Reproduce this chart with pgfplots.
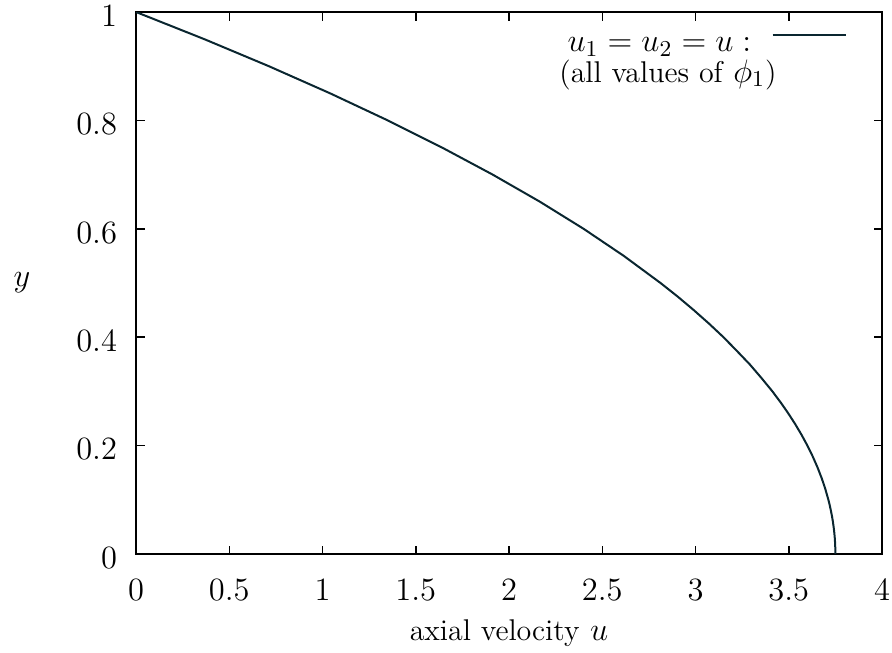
\documentclass[border=0pt]{standalone}
\usepackage{fix-cm}
\usepackage{fontspec}
\usepackage{pgfplots}
\pgfplotsset{compat=1.18}
\definecolor{curve}{HTML}{0A2630}
\pgfplotstableread{
u y
3.75 0
3.749625 0.01
3.7485 0.02
3.746625 0.03
3.744 0.04
3.740625 0.05
3.7365 0.06
3.731625 0.07
3.726 0.08
3.719625 0.09
3.7125 0.1
3.696 0.12
3.6765 0.14
3.654 0.16
3.6285 0.18
3.6 0.2
3.5685 0.22
3.534 0.24
3.4965 0.26
3.456 0.28
3.4125 0.3
3.353 0.325
3.290625 0.35
3.2211 0.375
3.15 0.4
3.0727 0.425
2.990625 0.45
2.9043 0.475
2.8125 0.5
2.615625 0.55
2.4 0.6
2.165625 0.65
1.9125 0.7
1.640625 0.75
1.35 0.8
1.040625 0.85
0.7125 0.9
0.365625 0.95
0 1
}\profile
\newcommand\txt[1]{{\fontsize{12}{14.4}\selectfont #1}}
\begin{document}
\fontsize{13}{15.6}\selectfont
\begin{tikzpicture}
\begin{axis}[
  width=298.4pt, height=216.8pt, scale only axis,
  xmin=0, xmax=4, ymin=0, ymax=1,
  xtick={0,0.5,1,1.5,2,2.5,3,3.5,4},
  ytick={0,0.2,0.4,0.6,0.8,1},
  tick align=inside, major tick length=3.4pt,
  axis line style={line width=0.7pt},
  every tick/.style={black, line width=0.6pt},
  xlabel={\txt{axial velocity} $u$}, ylabel={$y$},
  xlabel style={at={(rel axis cs:0.5,0)}, anchor=base, yshift=-34.4pt},
  ylabel style={rotate=-90, at={(rel axis cs:0,0.5)}, anchor=center, xshift=-45.6pt},
  xticklabel style={anchor=base, yshift=-18.4pt},
  yticklabel style={xshift=-3.1pt, yshift=-1.5pt},
  legend plot pos=right,
  legend style={draw=none, fill=none, at={(rel axis cs:1,1)}, anchor=north east,
    xshift=-14pt, yshift=-2.8pt, inner sep=0pt, column sep=-4pt},
  legend image code/.code={\draw[#1] (0pt,2.2pt) -- (29.2pt,2.2pt);},
]
\addplot[curve, line width=0.8pt] table[x=u, y=y] {\profile};
\addlegendentry{\begin{tabular}[t]{@{}c@{}}$u_1=u_2=u:$\kern6.8pt\\[-3.5pt]\txt{(all values of} $\phi_1$\txt{)}\end{tabular}}
\coordinate (sw) at (rel axis cs:0,0);
\coordinate (ne) at (rel axis cs:1,1);
\end{axis}
\pgfresetboundingbox
\path ([xshift=-54.4pt,yshift=-39.2pt]sw) rectangle ([xshift=4pt,yshift=4.8pt]ne);
\end{tikzpicture}
\end{document}
